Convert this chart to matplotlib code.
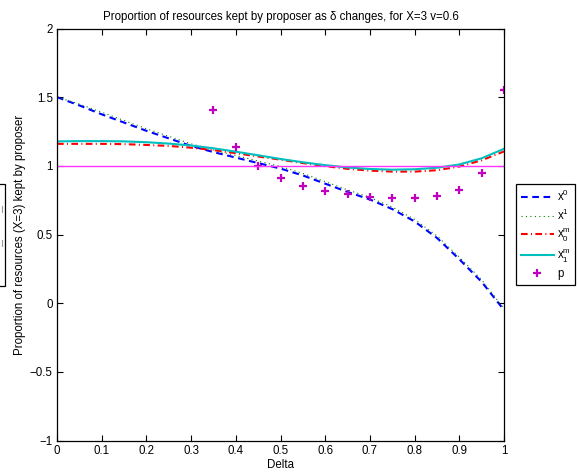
import matplotlib
matplotlib.use("Agg")
import matplotlib.pyplot as plt
from matplotlib.ticker import FuncFormatter, FixedLocator
from matplotlib.patches import Rectangle
from matplotlib.lines import Line2D

plt.rcParams['font.family'] = ['Liberation Sans', 'DejaVu Sans']
plt.rcParams['mathtext.default'] = 'regular'
plt.rcParams['axes.unicode_minus'] = True

# ---- data ----
delta = [0.00, 0.05, 0.10, 0.15, 0.20, 0.25, 0.30, 0.35, 0.40, 0.45, 0.50,
         0.55, 0.60, 0.65, 0.70, 0.75, 0.80, 0.85, 0.90, 0.95, 1.00]
x0 = [1.50, 1.44, 1.375, 1.315, 1.255, 1.20, 1.145, 1.10, 1.06, 1.02, 0.98,
      0.93, 0.87, 0.81, 0.755, 0.685, 0.595, 0.475, 0.32, 0.155, -0.05]
x1 = [1.50, 1.45, 1.39, 1.33, 1.27, 1.215, 1.16, 1.115, 1.075, 1.035, 0.995,
      0.945, 0.885, 0.825, 0.77, 0.70, 0.61, 0.49, 0.335, 0.17, -0.04]
x0m = [1.16, 1.16, 1.16, 1.158, 1.152, 1.145, 1.132, 1.115, 1.092, 1.068, 1.045,
       1.02, 0.998, 0.978, 0.965, 0.958, 0.958, 0.968, 0.995, 1.04, 1.105]
x1m = [1.178, 1.18, 1.18, 1.178, 1.172, 1.162, 1.148, 1.128, 1.103, 1.077, 1.05,
       1.026, 1.005, 0.988, 0.977, 0.972, 0.975, 0.986, 1.01, 1.055, 1.124]
p_delta = [0.35, 0.40, 0.45, 0.50, 0.55, 0.60, 0.65, 0.70, 0.75, 0.80,
           0.85, 0.90, 0.95, 1.00]
p_vals = [1.41, 1.137, 1.00, 0.915, 0.856, 0.818, 0.793, 0.776, 0.769, 0.769,
          0.781, 0.825, 0.951, 1.55]
ref_x = [0.0, 1.0]
ref_y = [1.0, 1.0]

legend_labels = ['x$^0$', 'x$^1$', 'x$_0^m$', 'x$_1^m$', 'p']
xticks = [0, 0.1, 0.2, 0.3, 0.4, 0.5, 0.6, 0.7, 0.8, 0.9, 1.0]
yticks = [-1, -0.5, 0, 0.5, 1, 1.5, 2]

W, H = 578, 475
fig = plt.figure(figsize=(W / 100, H / 100), dpi=100)
ax = fig.add_axes([57 / W, 1 - 440.5 / H, (504 - 57) / W, (440.5 - 28.5) / H])

fs = 8.3
lw = 1.5
h0, = ax.plot(delta, x0, color='#0000ff', lw=lw, ls=(0, (3.2, 2.2)))
h1, = ax.plot(delta, x1, color='#008000', lw=0.8, ls=(0, (1, 3)))
h2, = ax.plot(delta, x0m, color='#ff0000', lw=lw, ls=(0, (3.2, 1.6, 0.5, 1.6)))
h3, = ax.plot(delta, x1m, color='#00bfbf', lw=lw, ls='-')
h4, = ax.plot(p_delta, p_vals, ls='none', marker='+', ms=5.5, mew=1.6, color='#bf00bf')
ax.plot(ref_x, ref_y, color='#ff33ff', lw=1.0)

ax.set_xlim(0, 1)
ax.set_ylim(-1, 2)
ax.xaxis.set_major_locator(FixedLocator(xticks))
ax.yaxis.set_major_locator(FixedLocator(yticks))
fmt = FuncFormatter(lambda v, pos: ('%g' % v).replace('-', '\u2212'))
ax.xaxis.set_major_formatter(fmt)
ax.yaxis.set_major_formatter(fmt)
ax.tick_params(direction='in', top=True, right=True, length=4, width=0.8,
               labelsize=fs, pad=3)
for s in ax.spines.values():
    s.set_linewidth(0.9)

ax.set_title('Proportion of resources kept by proposer as \u03b4 changes, for X=3 v=0.6',
             fontsize=fs, pad=6)
ax.set_xlabel('Delta', fontsize=fs, labelpad=2)
fig.text(20 / W, 0.506, 'Proportion of resources (X=3) kept by proposer',
         rotation=90, ha='center', va='center', fontsize=fs)

leg = fig.legend([h0, h1, h2, h3, h4], legend_labels,
                 loc='upper left', bbox_to_anchor=(516 / W, 1 - 184 / H),
                 bbox_transform=fig.transFigure, borderaxespad=0,
                 fontsize=fs, handlelength=2.9, handletextpad=0.25,
                 labelspacing=0.32, borderpad=0.4, fancybox=False,
                 framealpha=1, edgecolor='black')
leg.get_frame().set_linewidth(0.9)

# clipped box at left edge
fig.patches.append(Rectangle((-60 / W, 1 - 286 / H), 65 / W, 102 / H,
                             transform=fig.transFigure, fill=False,
                             edgecolor='black', lw=0.9))
fig.lines.append(Line2D([2 / W, 2 / W], [1 - 212 / H, 1 - 206 / H],
                        transform=fig.transFigure, color='#999999', lw=0.8))
fig.lines.append(Line2D([2 / W, 2 / W], [1 - 246 / H, 1 - 240 / H],
                        transform=fig.transFigure, color='#999999', lw=0.8))

fig.savefig('out.png', dpi=100)
